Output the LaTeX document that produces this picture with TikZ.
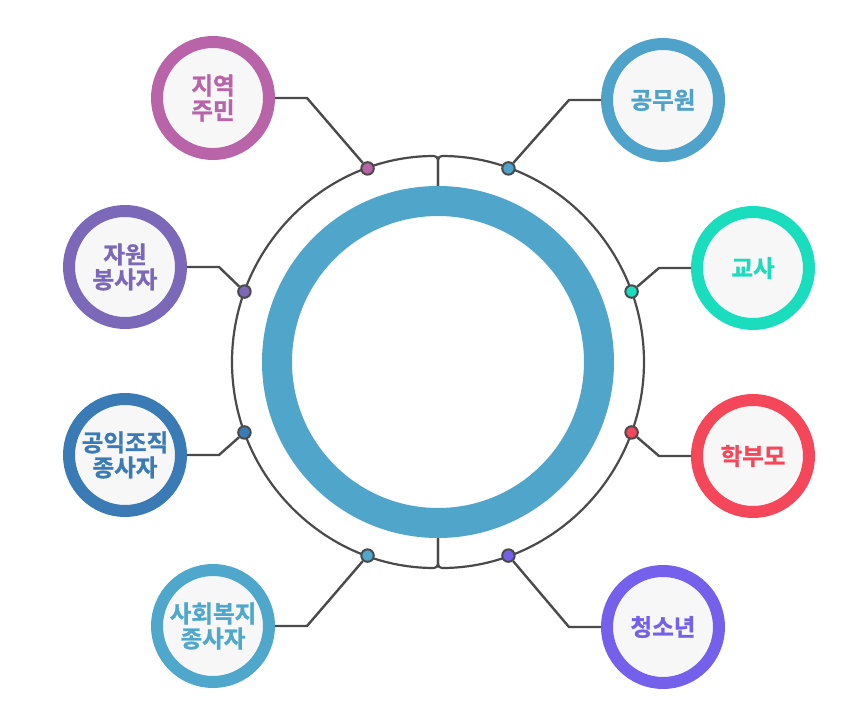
\documentclass[tikz,border=0pt]{standalone}
\usepackage{fontspec}
\setmainfont{Noto Sans CJK KR}[BoldFont={* Bold}, BoldFeatures={FakeBold=1.2}]
\usetikzlibrary{calc}

\definecolor{hubblue}{HTML}{50A5CB}
\definecolor{linegray}{HTML}{4A4A4A}
\definecolor{cardbg}{HTML}{F7F7F7}
\definecolor{cplum}{HTML}{B964A8}
\definecolor{cblue}{HTML}{4FA3CB}
\definecolor{cviolet}{HTML}{7C68B8}
\definecolor{cteal}{HTML}{1ADDBE}
\definecolor{cnavy}{HTML}{3B7BB5}
\definecolor{cred}{HTML}{F5475A}
\definecolor{csky}{HTML}{4FA8CC}
\definecolor{cpurple}{HTML}{7460EA}

\begin{document}
\begin{tikzpicture}[
        x=1pt, y=1pt,
        member/.style={circle, draw=#1, line width=12pt, fill=cardbg, minimum size=112pt, inner sep=0pt, align=center, text=#1, font=\fontsize{23.5}{25}\selectfont\bfseries},
        joint/.style={circle, draw=linegray, line width=2pt, fill=#1, minimum size=12.5pt, inner sep=0pt},
        link/.style={draw=linegray, line width=2.4pt},
    ]
        \useasboundingbox (-438,-363) rectangle (429,362);

        % Central ring
        \node[circle, draw=hubblue, line width=30pt, minimum size=322pt] (hub) at (0,0) {};

        % Outer track, two halves joined at top and bottom
        \draw[link, line width=2.2pt, rounded corners=4pt] (hub.north) -- (0,206) arc[start angle=90, end angle=-90, radius=206] -- (hub.south);
        \draw[link, line width=2.2pt, rounded corners=4pt] (hub.north) -- (0,206) arc[start angle=90, end angle=270, radius=206] -- (hub.south);

        % Member circles
        \node[member=cplum] (resident) at (-225,264) {지역\\주민};
        \node[member=cblue] (official) at (225,262) {공무원};
        \node[member=cviolet] (volunteer) at (-313,95) {자원\\봉사자};
        \node[member=cteal] (teacher) at (315,94) {교사};
        \node[member=cnavy] (nonprofit) at (-313,-93) {공익조직\\종사자};
        \node[member=cred] (parent) at (315,-94) {학부모};
        \node[member=csky] (welfare) at (-225,-264) {사회복지\\종사자};
        \node[member=cpurple] (youth) at (225,-265) {청소년};

        % Joints on the track
        \node[joint=cplum] (jresident) at (110:206) {};
        \node[joint=cblue] (jofficial) at (70:206) {};
        \node[joint=cviolet] (jvolunteer) at (160:206) {};
        \node[joint=cteal] (jteacher) at (20:206) {};
        \node[joint=cnavy] (jnonprofit) at (200:206) {};
        \node[joint=cred] (jparent) at (-20:206) {};
        \node[joint=csky] (jwelfare) at (250:206) {};
        \node[joint=cpurple] (jyouth) at (-70:206) {};

        % Links
        \draw[link] (jresident) -- ($(resident)+(94,0)$) -- (resident);
        \draw[link] (jofficial) -- ($(official)+(-94,0)$) -- (official);
        \draw[link] (jvolunteer) -- ($(volunteer)+(94,0)$) -- (volunteer);
        \draw[link] (jteacher) -- ($(teacher)+(-94,0)$) -- (teacher);
        \draw[link] (jnonprofit) -- ($(nonprofit)+(94,0)$) -- (nonprofit);
        \draw[link] (jparent) -- ($(parent)+(-94,0)$) -- (parent);
        \draw[link] (jwelfare) -- ($(welfare)+(94,0)$) -- (welfare);
        \draw[link] (jyouth) -- ($(youth)+(-94,0)$) -- (youth);
    \end{tikzpicture}
\end{document}
